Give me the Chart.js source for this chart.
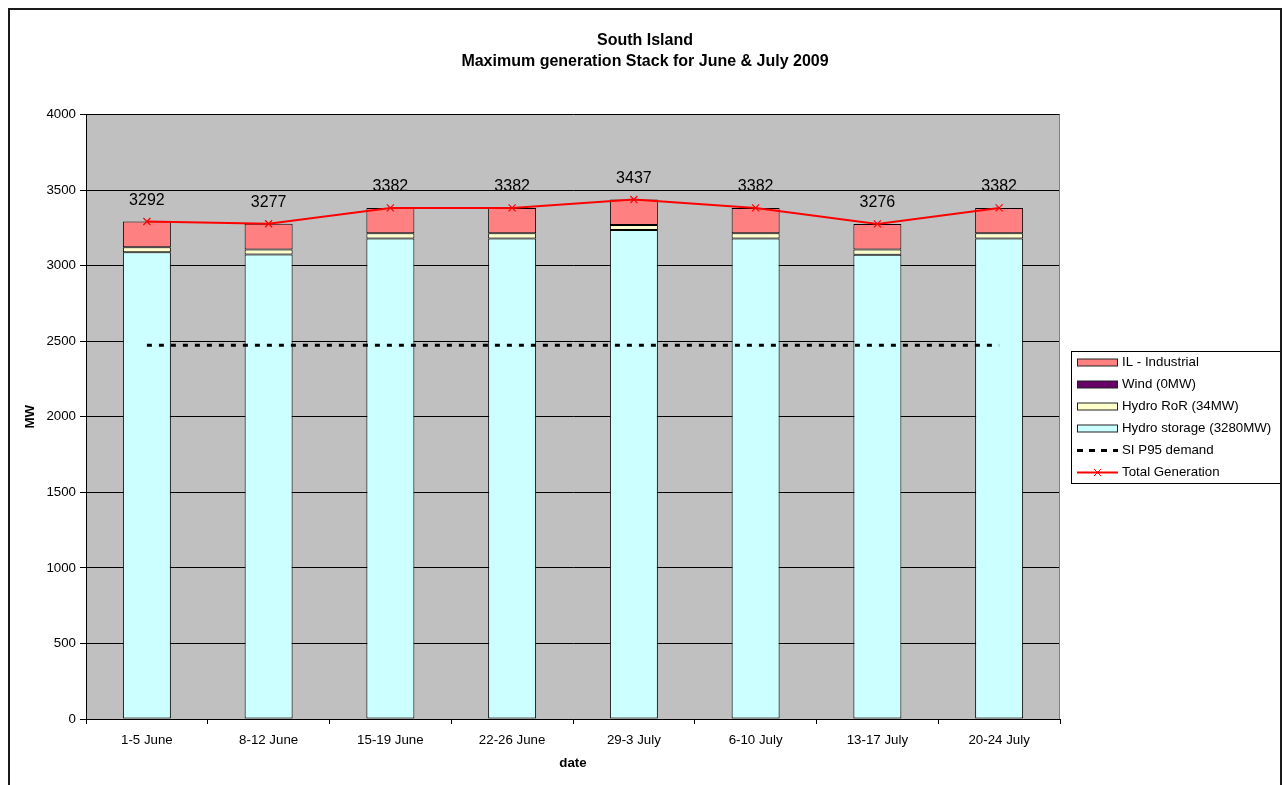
<!DOCTYPE html>
<html>
<head>
<meta charset="utf-8">
<title>South Island – Maximum generation Stack for June &amp; July 2009</title>
<script src="https://cdn.jsdelivr.net/npm/chart.js@4/dist/chart.umd.min.js"></script>
<style>
  html, body { margin: 0; padding: 0; background: #fff; overflow: hidden; }
  #wrap { position: relative; width: 1284px; height: 785px; }
  canvas { position: absolute; left: 0; top: 0; }
  #frame {
    position: absolute; left: 8px; top: 8px; width: 1270px; height: 820px;
    border: 2px solid #1a1a1a; pointer-events: none;
  }
</style>
</head>
<body>
<div id="wrap">
  <canvas id="chart" width="1284" height="785"></canvas>
  <div id="frame"></div>
</div>
<script>
// Weekly periods on the category axis
const weeks = ['1-5 June', '8-12 June', '15-19 June', '22-26 June', '29-3 July', '6-10 July', '13-17 July', '20-24 July'];

// Generation stack components (MW), bottom to top
const hydroStorage = [3088, 3073, 3180, 3180, 3235, 3180, 3072, 3180];
const hydroRoR     = [34, 34, 34, 34, 34, 34, 34, 34];
const wind         = [0, 0, 0, 0, 0, 0, 0, 0];
const industrialIL = [170, 170, 168, 168, 168, 168, 170, 168];

// Demand and total generation (MW)
const p95Demand       = [2473, 2473, 2473, 2473, 2473, 2473, 2473, 2473];
const totalGeneration = [3292, 3277, 3382, 3382, 3437, 3382, 3276, 3382];

// Value axis tick labels
const mwTicks = [0, 500, 1000, 1500, 2000, 2500, 3000, 3500, 4000];

// Chart heading lines
const titleLines = ['South Island', 'Maximum generation Stack for June & July 2009'];

const FONT = '"Liberation Sans", Arial, Helvetica, sans-serif';

// Grey plot background plus its right-hand edge
const plotBackground = {
  id: 'plotBackground',
  beforeDraw(chart) {
    const { ctx, chartArea: a } = chart;
    ctx.save();
    ctx.fillStyle = '#C0C0C0';
    ctx.fillRect(a.left, a.top, a.right - a.left, a.bottom - a.top);
    ctx.restore();
  },
  afterDraw(chart) {
    const { ctx, chartArea: a } = chart;
    ctx.save();
    ctx.strokeStyle = '#808080';
    ctx.lineWidth = 1;
    ctx.beginPath();
    ctx.moveTo(Math.round(a.right) - 0.5, a.top);
    ctx.lineTo(Math.round(a.right) - 0.5, a.bottom);
    ctx.stroke();
    ctx.restore();
  }
};

// Two-line heading centred on the whole framed page
const pageTitle = {
  id: 'pageTitle',
  afterDraw(chart) {
    const ctx = chart.ctx;
    ctx.save();
    ctx.font = 'bold 16px ' + FONT;
    ctx.fillStyle = '#000';
    ctx.textAlign = 'center';
    ctx.textBaseline = 'middle';
    titleLines.forEach((line, i) => ctx.fillText(line, 645, 40.5 + i * 20.8));
    ctx.restore();
  }
};

// Value labels above the total generation markers
const totalLabels = {
  id: 'totalLabels',
  afterDatasetsDraw(chart) {
    const idx = chart.data.datasets.findIndex(d => d.id === 'total');
    const meta = chart.getDatasetMeta(idx);
    const ctx = chart.ctx;
    ctx.save();
    ctx.font = '16px ' + FONT;
    ctx.fillStyle = '#000';
    ctx.textAlign = 'center';
    ctx.textBaseline = 'middle';
    meta.data.forEach((pt, i) => {
      ctx.fillText(String(chart.data.datasets[idx].data[i]), pt.x, pt.y - 21);
    });
    ctx.restore();
  }
};

// Boxed legend on the right: bar swatches, dashed demand line, total line with marker
const legendOrder = ['il', 'wind', 'ror', 'storage', 'demand', 'total'];
const stackLegend = {
  id: 'stackLegend',
  afterDraw(chart) {
    const ctx = chart.ctx;
    const box = { x: 1071.5, y: 351.5, w: 209, h: 132 };
    ctx.save();
    ctx.fillStyle = '#fff';
    ctx.fillRect(box.x, box.y, box.w, box.h);
    ctx.strokeStyle = '#000';
    ctx.lineWidth = 1;
    ctx.strokeRect(box.x, box.y, box.w, box.h);
    ctx.font = '13.3px ' + FONT;
    ctx.textAlign = 'left';
    ctx.textBaseline = 'middle';
    legendOrder.forEach((id, i) => {
      const ds = chart.data.datasets.find(d => d.id === id);
      const cy = 362.5 + i * 22;
      const sx = 1077, sw = 41;
      if (ds.type === 'line') {
        ctx.save();
        ctx.strokeStyle = ds.borderColor;
        ctx.lineWidth = ds.borderWidth;
        ctx.setLineDash(ds.borderDash ? [6, 6] : []);
        ctx.beginPath();
        ctx.moveTo(sx, cy);
        ctx.lineTo(sx + sw, cy);
        ctx.stroke();
        ctx.restore();
        if (ds.pointRadius > 0) {
          ctx.save();
          ctx.strokeStyle = ds.pointBorderColor;
          Chart.helpers.drawPoint(ctx, {
            pointStyle: ds.pointStyle, rotation: 0,
            radius: ds.pointRadius, borderWidth: ds.pointBorderWidth
          }, sx + sw / 2, cy);
          ctx.restore();
        }
      } else {
        ctx.save();
        ctx.fillStyle = ds.backgroundColor;
        ctx.fillRect(sx, cy - 3.5, sw, 7);
        ctx.strokeStyle = '#222';
        ctx.lineWidth = 1;
        ctx.strokeRect(sx + 0.5, cy - 3.5, sw - 1, 7);
        ctx.restore();
      }
      ctx.fillStyle = '#000';
      ctx.fillText(ds.label, 1122, cy);
    });
    ctx.restore();
  }
};

const barCommon = {
  type: 'bar',
  stack: 'generation',
  borderColor: '#000',
  borderWidth: 1,
  borderSkipped: false,
  barPercentage: 0.394,
  categoryPercentage: 1.0,
  order: 2
};

new Chart(document.getElementById('chart'), {
  data: {
    labels: weeks,
    datasets: [
      {
        id: 'total', type: 'line', label: 'Total Generation', data: totalGeneration,
        stack: 'total', borderColor: '#FF0000', borderWidth: 2, tension: 0, fill: false,
        pointStyle: 'crossRot', pointRadius: 5, pointBorderColor: '#FF0000',
        pointBackgroundColor: '#FF0000', pointBorderWidth: 1.2, order: 0
      },
      {
        id: 'demand', type: 'line', label: 'SI P95 demand', data: p95Demand,
        stack: 'demand', borderColor: '#000', borderWidth: 3, borderDash: [5, 7],
        pointRadius: 0, fill: false, order: 1
      },
      { ...barCommon, id: 'storage', label: 'Hydro storage (3280MW)', data: hydroStorage, backgroundColor: '#CCFFFF' },
      { ...barCommon, id: 'ror', label: 'Hydro RoR (34MW)', data: hydroRoR, backgroundColor: '#FFFFCC' },
      { ...barCommon, id: 'wind', label: 'Wind (0MW)', data: wind, backgroundColor: '#660066' },
      { ...barCommon, id: 'il', label: 'IL - Industrial', data: industrialIL, backgroundColor: '#FF8080' }
    ]
  },
  options: {
    responsive: false,
    animation: false,
    layout: { padding: { left: 0, right: 224, top: 114.5, bottom: 0 } },
    plugins: {
      legend: { display: false },
      tooltip: { enabled: false },
      title: { display: false }
    },
    scales: {
      x: {
        stacked: true,
        offset: true,
        grid: { offset: true, drawOnChartArea: false, drawTicks: true, tickLength: 5, color: '#000' },
        border: { display: true, color: '#000', width: 1 },
        ticks: { color: '#000', font: { family: FONT, size: 13.3 }, padding: 8, maxRotation: 0, autoSkip: false },
        title: {
          display: true, text: 'date', color: '#000',
          font: { family: FONT, size: 13.3, weight: 'bold' },
          padding: { top: 0, bottom: 14 }
        },
        afterFit(scale) { scale.height = 66; }
      },
      y: {
        stacked: true,
        min: 0,
        max: 4000,
        grid: { color: '#000', lineWidth: 1, drawTicks: true, tickLength: 6 },
        border: { display: true, color: '#000', width: 1 },
        ticks: {
          color: '#000', font: { family: FONT, size: 13.3 }, padding: 4,
          callback: v => String(v)
        },
        afterBuildTicks(scale) { scale.ticks = mwTicks.map(v => ({ value: v })); },
        title: {
          display: true, text: 'MW', color: '#000',
          font: { family: FONT, size: 13.3, weight: 'bold' },
          padding: { top: 22, bottom: 0 }
        },
        afterFit(scale) { scale.width = 86; }
      }
    }
  },
  plugins: [plotBackground, pageTitle, totalLabels, stackLegend]
});
</script>
</body>
</html>
